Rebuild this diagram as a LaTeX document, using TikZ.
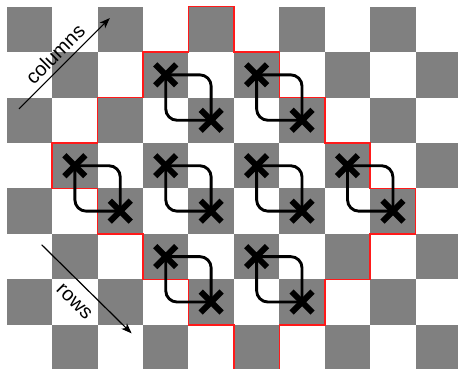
\documentclass[tikz,border=0pt]{standalone}
\usepackage{fontspec}
\setmainfont{Liberation Sans}
\usetikzlibrary{arrows.meta,shapes.misc}
\definecolor{boardgray}{HTML}{808080}
\definecolor{edgered}{HTML}{FF1A1A}
\tikzset{
  sq/.style={fill=boardgray},
  redline/.style={draw=edgered, line width=1.0pt},
  xmk/.style={cross out, draw=black, line width=3.75pt, minimum size=0.46cm, inner sep=0pt, outer sep=0pt},
  swapline/.style={draw=black, line width=1.8pt, rounded corners=0.25cm},
  dirarrow/.style={draw=black, line width=0.75pt, -{Stealth[length=2.3mm,width=1.7mm,inset=0.6mm]}},
  lbl/.style={font=\fontsize{12.5}{15}\selectfont, sloped}
}
\begin{document}
\begin{tikzpicture}
\useasboundingbox (-0.147,0.147) rectangle (9.932,-7.973);
\clip (-0.147,0.147) rectangle (9.932,-7.973);
% checkerboard
\foreach \c in {0,...,9}{
  \foreach \r in {0,...,7}{
    \pgfmathtruncatemacro{\myparity}{mod(\c+\r,2)}
    \ifnum\myparity=0 \fill[sq] (\c,-\r) rectangle ++(1,-1); \fi
  }
}
% red boundary
\draw[redline] (4,0) -- (5,0) -- (5,-1) -- (6,-1) -- (6,-2) -- (7,-2) -- (7,-3) -- (8,-3) -- (8,-4) -- (9,-4) -- (9,-5) -- (8,-5) -- (8,-6) -- (7,-6) -- (7,-7) -- (6,-7) -- (6,-8) -- (5,-8) -- (5,-7) -- (4,-7) -- (4,-6) -- (3,-6) -- (3,-5) -- (2,-5) -- (2,-4) -- (1,-4) -- (1,-3) -- (2,-3) -- (2,-2) -- (3,-2) -- (3,-1) -- (4,-1) -- cycle;
% crosses
\foreach \c/\r [count=\i] in {3/1,5/1,1/3,3/3,5/3,7/3,3/5,5/5}{
  \node[xmk] (p\i) at (\c+0.5,-\r-0.5) {};
  \node[xmk] (q\i) at (\c+1.5,-\r-1.5) {};
}
% swap curves
\foreach \i in {1,...,8}{
  \draw[swapline] (p\i.center) -| (q\i.center);
  \draw[swapline] (q\i.center) -| (p\i.center);
}
% direction arrows
\coordinate (cs) at (0.27,-2.25);
\coordinate (ce) at (2.27,-0.25);
\coordinate (rs) at (0.77,-5.24);
\coordinate (re) at (2.75,-7.19);
\draw[dirarrow] (cs) -- node[lbl, above] {columns} (ce);
\draw[dirarrow] (rs) -- node[lbl, below=4pt] {rows} (re);
\end{tikzpicture}
\end{document}
